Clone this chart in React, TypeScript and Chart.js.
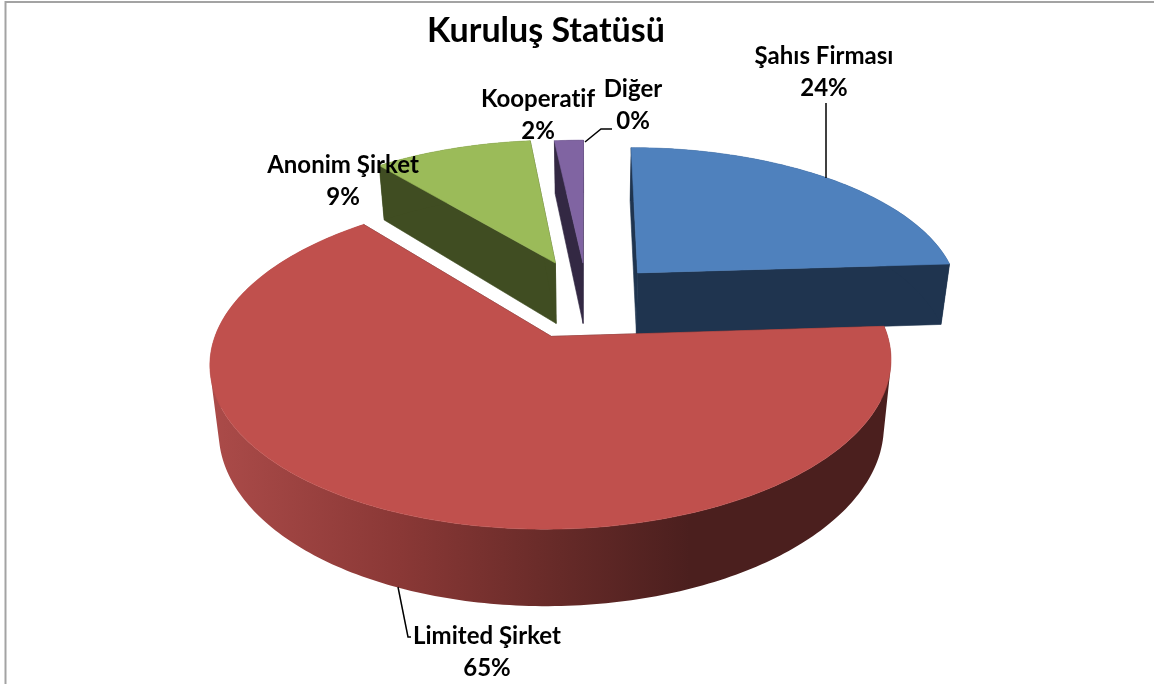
import React, { useEffect, useRef } from "react";
import { Chart, registerables } from "chart.js";

Chart.register(...registerables);

const titleText = "Kuruluş Statüsü";
const categories = ["Şahıs Firması", "Limited Şirket", "Anonim Şirket", "Kooperatif", "Diğer"];
const shares = [24, 65, 9.3, 1.7, 0];
const explosionPercent = [23.4, 26.7, 26, 24, 24];
const topColors = ["#4f81bd", "#c0504d", "#9bbb59", "#8064a2", "#4bacc6"];
const wallColors = ["#1f344f", "#4b1f1e", "#404d22", "#332843", "#1f4a55"];
const drawOrder = [4, 3, 2, 0, 1];

const FONT = "Lato, Carlito, Calibri, sans-serif";
const view = { cx: 587, cy: 298, bx: 324, ay: 151, k: 0.15, depth: 62.6, m: 0.024 };
const redWallStops: [number, string][] = [
  [212, "#ab4b49"],
  [400, "#8a3836"],
  [560, "#662a28"],
  [690, "#4b1f1e"],
  [890, "#4b1f1e"],
];
const labelLayout = [
  { x: 824, y: 56, gap: 32 },
  { x: 487, y: 636, gap: 32 },
  { x: 343, y: 165, gap: 32 },
  { x: 538, y: 99, gap: 32 },
  { x: 633, y: 89, gap: 32 },
];
const leaders: [number, number][][] = [
  [[826, 103], [826, 178]],
  [[398, 587], [408, 637], [411, 637]],
  [],
  [],
  [[585, 142], [601, 129], [612, 129]],
];

type Pt = [number, number];

function project(u: number, v: number, z: number): Pt {
  const w = 1 + view.k * v;
  return [
    view.cx + (view.bx * u) / (w * (1 + view.m * z)),
    view.cy - (view.ay * v) / w + (view.depth * z) / w,
  ];
}

function signedArea(pts: Pt[]) {
  let a = 0;
  pts.forEach((p, n) => {
    const q = pts[(n + 1) % pts.length];
    a += p[0] * q[1] - q[0] * p[1];
  });
  return a;
}

const pie3dPlugin = {
  id: "pie3d",
  beforeDatasetsDraw(chart: any) {
    const ctx = chart.ctx as CanvasRenderingContext2D;
    const arcs = chart.getDatasetMeta(0).data;
    for (const i of drawOrder) {
      const el = arcs[i];
      const { startAngle, endAngle } = el.getProps(["startAngle", "endAngle"], true);
      if (endAngle - startAngle < 1e-6) continue;
      const mid = (startAngle + endAngle) / 2;
      const e = el.options.offset / 100;
      const ou = e * Math.cos(mid);
      const ov = -e * Math.sin(mid);
      const at = (a: number, z: number) => project(ou + Math.cos(a), ov - Math.sin(a), z);
      const apex = (z: number) => project(ou, ov, z);
      const steps = Math.max(8, Math.ceil((endAngle - startAngle) * 60));
      const arcPts = (z: number) => {
        const p: Pt[] = [];
        for (let s = 0; s <= steps; s++) p.push(at(startAngle + ((endAngle - startAngle) * s) / steps, z));
        return p;
      };
      const fillShapes = (shapes: Pt[][], color: any) => {
        ctx.beginPath();
        for (const shape of shapes) {
          const pts = signedArea(shape) < 0 ? [...shape].reverse() : shape;
          pts.forEach((p, n) => (n ? ctx.lineTo(p[0], p[1]) : ctx.moveTo(p[0], p[1])));
          ctx.closePath();
        }
        ctx.fillStyle = color;
        ctx.strokeStyle = color;
        ctx.lineWidth = 0.6;
        ctx.fill("nonzero");
        ctx.stroke();
      };
      const wall = wallColors[i];
      fillShapes([[apex(0), at(startAngle, 0), at(startAngle, 1), apex(1)]], wall);
      fillShapes([[apex(0), at(endAngle, 0), at(endAngle, 1), apex(1)]], wall);
      let outer: any = wall;
      if (i === 1) {
        const g = ctx.createLinearGradient(212, 0, 890, 0);
        for (const [x, c] of redWallStops) g.addColorStop((x - 212) / (890 - 212), c);
        outer = g;
      }
      const top = arcPts(0);
      const bottom = arcPts(1);
      const quads: Pt[][] = [];
      for (let s = 0; s < steps; s++) quads.push([top[s], top[s + 1], bottom[s + 1], bottom[s]]);
      ctx.save();
      // the stroke of the per-step quads would leave ribs: hairline only on the fill's union
      ctx.globalCompositeOperation = "source-over";
      ctx.beginPath();
      for (const q of quads) {
        const pts = signedArea(q) < 0 ? [...q].reverse() : q;
        pts.forEach((p, n) => (n ? ctx.lineTo(p[0], p[1]) : ctx.moveTo(p[0], p[1])));
        ctx.closePath();
      }
      ctx.fillStyle = outer;
      ctx.fill("nonzero");
      ctx.restore();
      fillShapes([[apex(0), ...top]], el.options.backgroundColor);
    }
    return false;
  },
  afterDraw(chart: any) {
    const ctx = chart.ctx as CanvasRenderingContext2D;
    ctx.save();
    ctx.strokeStyle = "#a3a3a3";
    ctx.lineWidth = 2;
    ctx.beginPath();
    ctx.moveTo(5.5, 684);
    ctx.lineTo(5.5, 2);
    ctx.lineTo(1154, 2);
    ctx.stroke();
    ctx.strokeStyle = "#000";
    ctx.lineWidth = 1.5;
    for (const pts of leaders) {
      if (!pts.length) continue;
      ctx.beginPath();
      pts.forEach((p, n) => (n ? ctx.lineTo(p[0], p[1]) : ctx.moveTo(p[0], p[1])));
      ctx.stroke();
    }
    ctx.fillStyle = "#000";
    ctx.font = `bold 24px ${FONT}`;
    (ctx as any).letterSpacing = "0.01px";
    ctx.textAlign = "center";
    ctx.textBaseline = "middle";
    categories.forEach((name, i) => {
      const l = labelLayout[i];
      ctx.fillText(name, l.x, l.y);
      ctx.fillText(`${Math.round(shares[i])}%`, l.x, l.y + l.gap);
    });
    ctx.restore();
  },
};

export default function App() {
  const ref = useRef<HTMLCanvasElement>(null);
  useEffect(() => {
    document.body.style.margin = "0";
    const chart = new Chart(ref.current!, {
      type: "pie",
      data: {
        labels: categories,
        datasets: [
          {
            data: shares,
            backgroundColor: topColors,
            offset: explosionPercent,
            borderWidth: 0,
          },
        ],
      },
      options: {
        responsive: false,
        animation: false,
        layout: { padding: { top: 10, right: 62 } },
        plugins: {
          legend: { display: false },
          tooltip: { enabled: false },
          title: {
            display: true,
            text: titleText,
            color: "#000",
            font: { family: FONT, size: 34, weight: "bold" },
            padding: { top: 1, bottom: 10 },
          },
        },
      },
      plugins: [pie3dPlugin],
    } as any);
    return () => chart.destroy();
  }, []);
  return (
    <div style={{ width: 1154, height: 684, background: "#fff" }}>
      <canvas ref={ref} width={1154} height={684} style={{ display: "block" }} />
    </div>
  );
}
